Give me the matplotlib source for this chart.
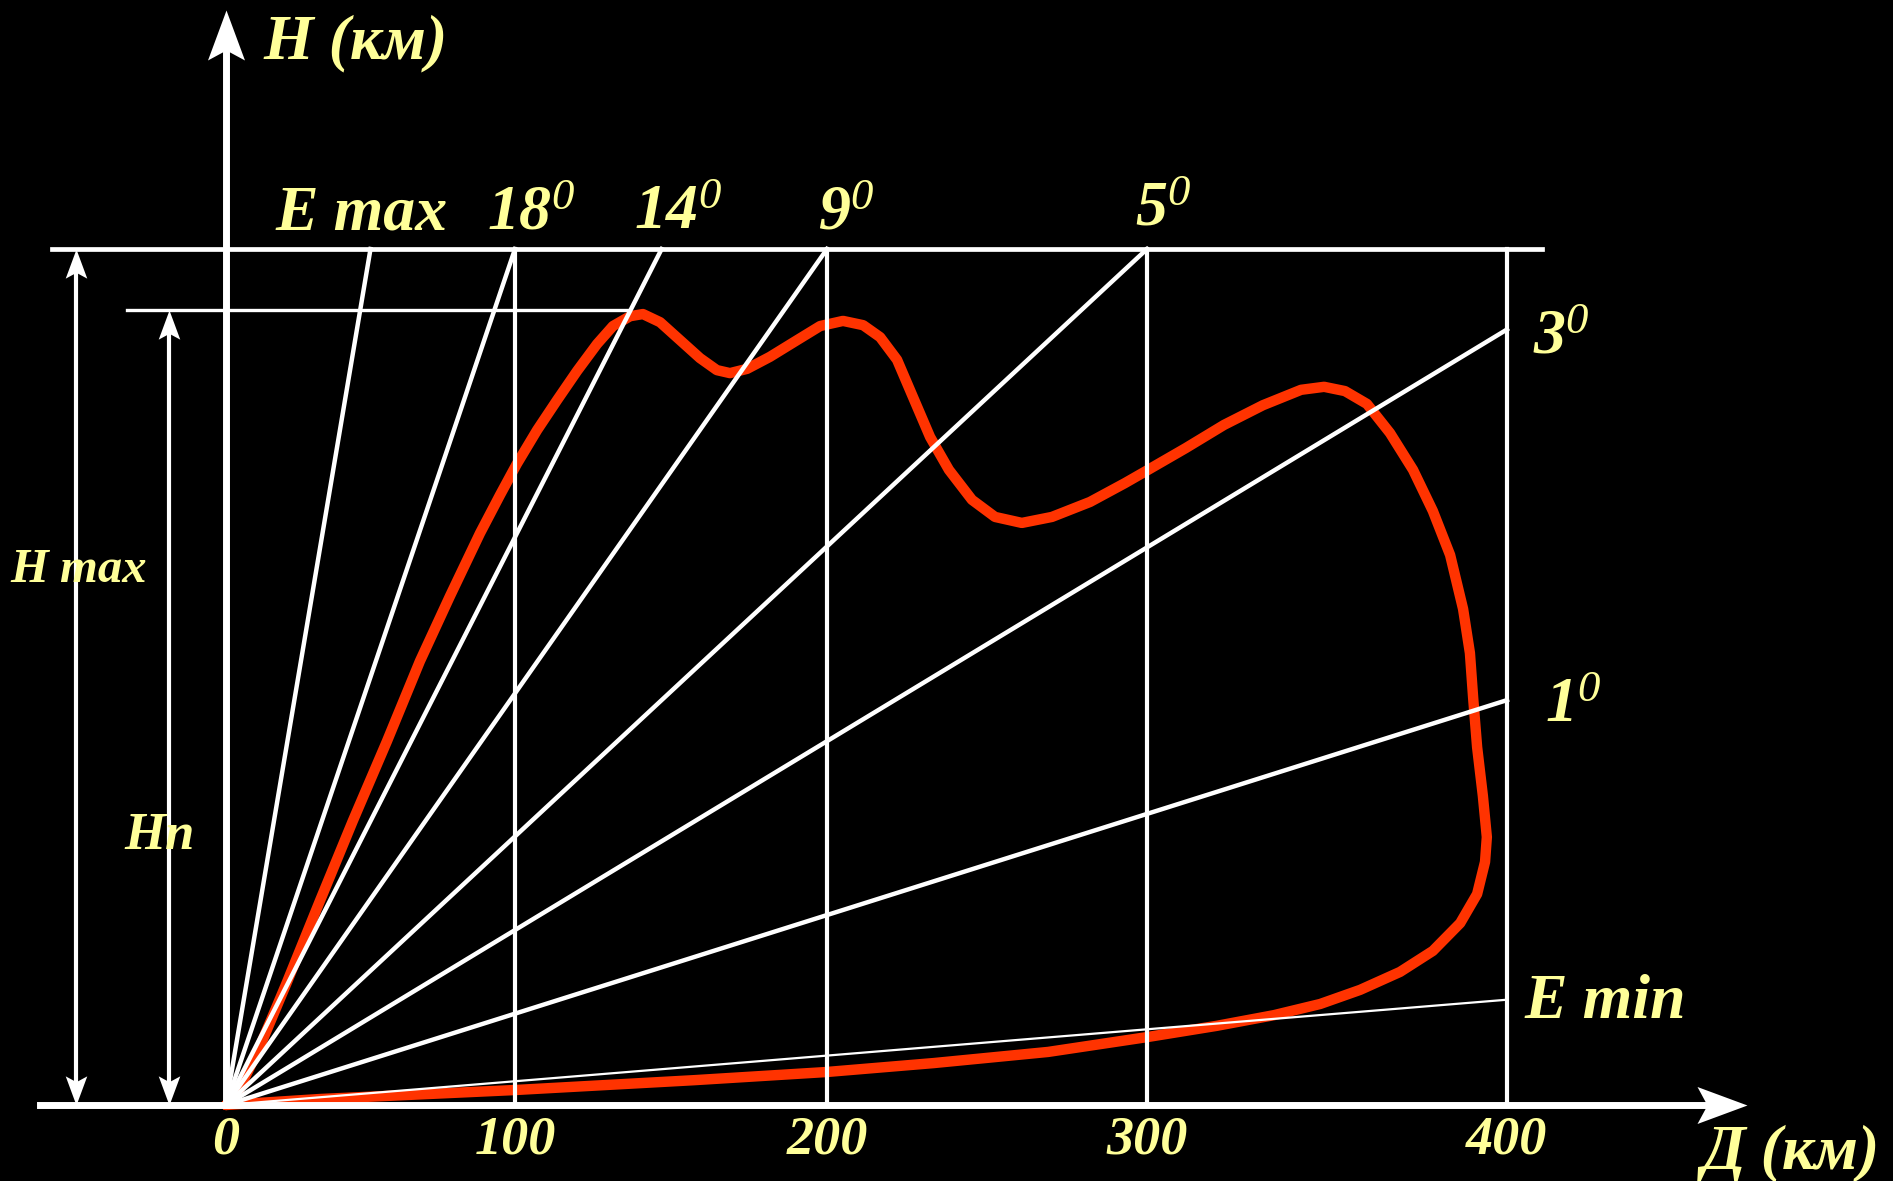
import numpy as np
import matplotlib
matplotlib.use("Agg")
import matplotlib.pyplot as plt
from matplotlib.markers import MarkerStyle
from matplotlib.path import Path
from matplotlib.transforms import Affine2D

# ---- data -------------------------------------------------------------
dist_ticks = [0, 100, 200, 300, 400]
dist_labels = ["0", "100", "200", "300", "400"]

h_max = 20.0      # E max level (arbitrary km)
h_n = 18.57       # Hn level

ray_labels = ["E max", "18", "14", "9", "5", "3", "1", "E min"]
ray_end_km = [50, 100, 147, 200, 300, 400, 400, 400]
ray_end_h = [20, 20, 20, 20, 20, 18.12, 9.46, 2.46]

# zone of detection (red outline)
curve_km = [0, 3.8, 11.8, 21.1, 32.5, 43.9, 55.7, 67.1, 77.5, 87.9, 94.8,
            100.6, 107.1, 113.5, 119.9, 126.3, 131.4, 136.9, 141.0, 146.5,
            152.9, 159.3, 164.7, 168.9, 174.4, 181.7, 190.4, 197.8, 205.0,
            211.3, 216.6, 221.9, 226.3, 232.2, 238.1, 245.3, 252.5, 260.9,
            270.3, 282.2, 293.1, 300.3, 310.8, 321.4, 332.2, 342.8, 349.2,
            355.0, 361.1, 367.5, 373.9, 379.4, 384.2, 387.8, 389.7, 390.6,
            391.7, 393.3, 394.4, 393.9, 391.7, 387.0, 379.4, 370.3, 359.2,
            348.1, 335.3, 319.4, 300.3, 269.1, 233.4, 199.7, 157.4, 100.0,
            32.5, 0]
curve_h = [0, 0.26, 1.38, 2.87, 4.77, 6.64, 8.50, 10.37, 11.89, 13.36, 14.25,
           14.98, 15.77, 16.47, 17.15, 17.78, 18.20, 18.43, 18.48, 18.29,
           17.87, 17.45, 17.17, 17.10, 17.20, 17.48, 17.87, 18.20, 18.32,
           18.22, 17.94, 17.41, 16.64, 15.61, 14.84, 14.14, 13.74, 13.60,
           13.74, 14.09, 14.53, 14.84, 15.35, 15.89, 16.35, 16.71, 16.78,
           16.68, 16.38, 15.70, 14.84, 13.88, 12.85, 11.59, 10.56, 9.51,
           8.36, 7.22, 6.26, 5.68, 4.93, 4.25, 3.60, 3.11, 2.69,
           2.36, 2.10, 1.85, 1.59, 1.24, 0.98, 0.77, 0.58, 0.35,
           0.14, 0]

# ---- uneven distance scale of the drawing --------------------------------
W, H = 1893, 1181
SC_KM = np.array([0, 100, 200, 300, 400], float)
SC_U = np.array([226, 515, 827, 1147, 1507], float)


def fwd(v):
    v = np.asarray(v, float)
    out = np.interp(v, SC_KM, SC_U)
    lo, hi = v < SC_KM[0], v > SC_KM[-1]
    out = np.where(lo, SC_U[0] + (v - SC_KM[0]) * (SC_U[1] - SC_U[0]) / 100, out)
    out = np.where(hi, SC_U[-1] + (v - SC_KM[-1]) * (SC_U[-1] - SC_U[-2]) / 100, out)
    return out


def inv(u):
    u = np.asarray(u, float)
    out = np.interp(u, SC_U, SC_KM)
    lo, hi = u < SC_U[0], u > SC_U[-1]
    out = np.where(lo, SC_KM[0] + (u - SC_U[0]) * 100 / (SC_U[1] - SC_U[0]), out)
    out = np.where(hi, SC_KM[-1] + (u - SC_U[-1]) * 100 / (SC_U[-1] - SC_U[-2]), out)
    return out


HS = h_max / (1105 - 249)   # km of H per pixel

plt.rcParams["mathtext.fontset"] = "custom"
plt.rcParams["mathtext.rm"] = "Liberation Serif:italic"
plt.rcParams["mathtext.it"] = "Liberation Serif:italic"
plt.rcParams["mathtext.bf"] = "Liberation Serif:italic:bold"

fig = plt.figure(figsize=(W / 100, H / 100), dpi=100, facecolor="black")
ax = fig.add_axes([0, 0, 1, 1])
ax.set_facecolor("black")
ax.set_xscale("function", functions=(fwd, inv))
ax.set_xlim(float(inv(0)), float(inv(W)))
ax.set_ylim(-(H - 1105) * HS, 1105 * HS)
ax.axis("off")

# arrow head (stealth shape)
head_path = Path([(0, 0), (-0.37, -1), (0, -0.8), (0.37, -1), (0, 0)],
                 [Path.MOVETO, Path.LINETO, Path.LINETO, Path.LINETO, Path.CLOSEPOLY])


def head(x, y, ang, size):
    m = MarkerStyle(head_path, transform=Affine2D().rotate_deg(ang))
    ax.plot([x], [y], marker=m, ms=size, color="white", mec="none", ls="none", zorder=5)


white = "white"
red = "#ff3300"
yellow = "#ffff99"

# red curve under the white lines
ax.plot(curve_km, curve_h, color=red, lw=7.5, solid_joinstyle="round",
        solid_capstyle="round", zorder=1)

# gridlines and levels
for d in dist_ticks[1:]:
    ax.plot([d, d], [0, h_max], color=white, lw=3.0, zorder=2)
ax.plot([float(inv(52)), float(inv(1542))], [h_max, h_max], color=white, lw=3.4, zorder=2)
ax.plot([float(inv(127)), float(inv(628))], [h_n, h_n], color=white, lw=2.4, zorder=2)

# rays
for i, lab in enumerate(ray_labels):
    lw = 1.6 if lab == "E min" else 3.2
    ax.plot([0, ray_end_km[i]], [0, ray_end_h[i]], color=white, lw=lw, zorder=2)

# axes with arrows
y_top = 1105 * HS - 10 * HS
ax.plot([0, 0], [0, y_top - 0.5], color=white, lw=5, zorder=3)
head(0, y_top, 0, 72)
x_end = float(inv(1747))
ax.plot([float(inv(40)), x_end - 5], [0, 0], color=white, lw=5, zorder=3)
head(x_end, 0, -90, 72)

# H max / Hn dimension arrows
for xp, top in [(76, h_max), (169, h_n)]:
    xk = float(inv(xp))
    ax.plot([xk, xk], [0.3, top - 0.3], color=white, lw=3.0, zorder=3)
    head(xk, top, 0, 42)
    head(xk, 0, 180, 42)

# ---- text ----------------------------------------------------------------
tfont = dict(family="Liberation Serif", style="italic", weight="bold", color=yellow)


def label(s, x, y, size=46):
    fig.text(x / W, 1 - y / H, s, ha="left", va="baseline", fontsize=size, **tfont)


label("H (км)", 263, 58)
label("Д (км)", 1702, 1169)
label("E max", 275, 229)
label("18$^0$", 487, 229)
label("14$^0$", 634, 229)
label("9$^0$", 818, 229)
label("5$^0$", 1135, 225)
label("3$^0$", 1533, 354)
label("1$^0$", 1545, 722)
label("E min", 1524, 1018)
label("H max", 10, 582, 35)
label("Hn", 124, 849, 38)

for d, s in zip(dist_ticks, dist_labels):
    ax.text(d, (1105 - 1154) * HS, s, ha="center", va="baseline", fontsize=39, **tfont)

fig.savefig("out.png", dpi=100, facecolor="black")
